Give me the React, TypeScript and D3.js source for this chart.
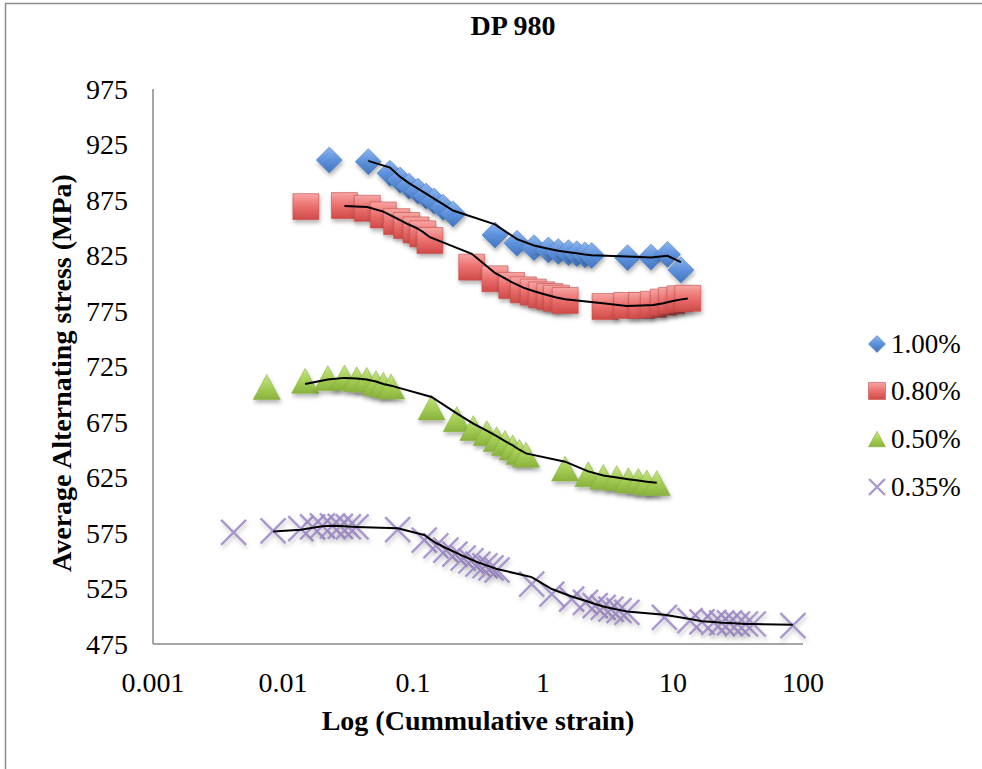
import React from "react";
import * as d3 from "d3";

// Cumulative strain (log axis) and average alternating stress (MPa) per strain amplitude
const strain100 = [0.0227, 0.0453, 0.0665, 0.0794, 0.0931, 0.109, 0.126, 0.145, 0.17, 0.203, 0.427, 0.631, 0.853, 1.1, 1.31, 1.57, 1.82, 2.1, 2.37, 4.47, 6.77, 9.07, 11.5];
const stress100 = [911, 909.5, 899, 893, 887.5, 883, 878.5, 874, 868.5, 862.5, 843.5, 836, 832, 830, 828.5, 827.5, 826.5, 825.5, 825, 823, 823.5, 826, 812];

const strain080 = [0.015, 0.0297, 0.0445, 0.0591, 0.0749, 0.0895, 0.1055, 0.119, 0.135, 0.283, 0.427, 0.574, 0.706, 0.842, 0.977, 1.13, 1.27, 1.48, 3.0, 4.4, 5.74, 7.06, 8.42, 9.77, 11.3, 13.0];
const stress080 = [869, 870, 867.5, 861.5, 855.5, 852, 848, 844.5, 838.5, 814.5, 804, 798, 794, 792, 789.5, 788, 786.5, 784.5, 779, 780, 780, 781, 783, 784.5, 786, 786.5];

const strain050 = [0.0075, 0.0148, 0.0221, 0.0297, 0.0369, 0.044, 0.0519, 0.0591, 0.0678, 0.139, 0.217, 0.291, 0.369, 0.44, 0.51, 0.585, 0.658, 0.74, 1.48, 2.23, 2.91, 3.69, 4.53, 5.41, 6.28, 7.5];
const stress050 = [706.5, 712, 714.5, 715, 713.5, 713, 710, 708.5, 707, 688, 677.5, 669.5, 665, 659.5, 656, 652, 648, 645.5, 633, 628, 625.5, 624.5, 622.5, 622, 620.5, 620];

const strain035 = [0.00417, 0.00839, 0.0137, 0.0169, 0.0201, 0.024, 0.0276, 0.0318, 0.0365, 0.0762, 0.122, 0.15, 0.179, 0.21, 0.243, 0.279, 0.316, 0.358, 0.398, 0.443, 0.818, 1.17, 1.66, 2.12, 2.52, 2.9, 3.33, 3.84, 4.42, 8.59, 13.5, 16.7, 20.6, 23.7, 27.2, 31.3, 36.1, 41.5, 83.6];
const stress035 = [575.5, 577, 579, 580.5, 581.5, 581.5, 581, 580.5, 580.5, 578, 568.5, 563.5, 559.5, 556, 552.5, 550, 547, 545.5, 543.5, 541.5, 529, 520, 515.5, 512.5, 509.5, 508, 506.5, 505, 503.5, 499, 496, 495, 494.5, 494, 494, 493, 493, 493, 491.5];

const seriesNames = ["1.00%", "0.80%", "0.50%", "0.35%"];
const xTickValues = [0.001, 0.01, 0.1, 1, 10, 100];
const xTickLabels = ["0.001", "0.01", "0.1", "1", "10", "100"];
const yTickValues = [475, 525, 575, 625, 675, 725, 775, 825, 875, 925, 975];

const chartTitle = "DP 980";
const xTitle = "Log (Cummulative strain)";
const yTitle = "Average Alternating stress (MPa)";

const W = 982;
const H = 769;
const FONT = "'Liberation Serif', 'Times New Roman', serif";

type Kind = "diamond" | "square" | "triangle" | "x";

const series: { name: string; xs: number[]; ys: number[]; kind: Kind; fill: string; size: number }[] = [
  { name: seriesNames[0], xs: strain100, ys: stress100, kind: "diamond", fill: "url(#gBlue)", size: 26 },
  { name: seriesNames[1], xs: strain080, ys: stress080, kind: "square", fill: "url(#gRed)", size: 26 },
  { name: seriesNames[2], xs: strain050, ys: stress050, kind: "triangle", fill: "url(#gGreen)", size: 27 },
  { name: seriesNames[3], xs: strain035, ys: stress035, kind: "x", fill: "none", size: 25 },
];

function markerPath(kind: Kind, s: number): string {
  const h = s / 2;
  switch (kind) {
    case "diamond":
      return `M0,${-h}L${h},0L0,${h}L${-h},0Z`;
    case "square":
      return `M${-h},${-h}h${s}v${s}h${-s}Z`;
    case "triangle": {
      const th = s * 0.46;
      return `M0,${-th}L${h},${th}L${-h},${th}Z`;
    }
    default:
      return `M${-h},${-h}L${h},${h}M${h},${-h}L${-h},${h}`;
  }
}

function Marker({ kind, fill, size, x, y, shadow = true }: { kind: Kind; fill: string; size: number; x: number; y: number; shadow?: boolean }) {
  const d = markerPath(kind, size);
  if (kind === "x") {
    return (
      <path
        d={d}
        transform={`translate(${x},${y})`}
        fill="none"
        stroke="#9c86c6"
        strokeOpacity={0.85}
        strokeWidth={2.4}
        filter={shadow ? "url(#shadowX)" : undefined}
      />
    );
  }
  const stroke = kind === "square" ? "#c4504d" : kind === "diamond" ? "#4f7fc0" : "#8cb044";
  return (
    <path
      d={d}
      transform={`translate(${x},${y})`}
      fill={fill}
      stroke={stroke}
      strokeOpacity={0.6}
      strokeWidth={1}
      filter={shadow ? "url(#shadow)" : undefined}
    />
  );
}

export default function App() {
  const x = d3.scaleLog().domain([0.001, 100]).range([153, 803]);
  const y = d3.scaleLinear().domain([475, 975]).range([644, 89]);

  const line = d3
    .line<[number, number]>()
    .x((d) => x(d[0]))
    .y((d) => y(d[1]));

  // Two-period moving average trendline for each series
  const movingAvg = (xs: number[], ys: number[]): [number, number][] =>
    xs.slice(1).map((v, i) => [v, (ys[i] + ys[i + 1]) / 2]);

  const legendRows = [344, 391, 439, 487];

  return (
    <svg
      width={W}
      height={H}
      style={{ position: "absolute", left: 0, top: 0, background: "#fff" }}
      fontFamily={FONT}
    >
      <defs>
        <linearGradient id="gBlue" x1="0" y1="0" x2="0" y2="1">
          <stop offset="0" stopColor="#8db6ef" />
          <stop offset="0.5" stopColor="#5d91db" />
          <stop offset="1" stopColor="#4474bf" />
        </linearGradient>
        <linearGradient id="gRed" x1="0" y1="0" x2="0" y2="1">
          <stop offset="0" stopColor="#f7a6a4" />
          <stop offset="0.45" stopColor="#ec7371" />
          <stop offset="1" stopColor="#d04a47" />
        </linearGradient>
        <linearGradient id="gGreen" x1="0" y1="0" x2="0" y2="1">
          <stop offset="0" stopColor="#c6e585" />
          <stop offset="0.5" stopColor="#a6cf57" />
          <stop offset="1" stopColor="#88b23b" />
        </linearGradient>
        <filter id="shadow" x="-50%" y="-50%" width="200%" height="200%">
          <feDropShadow dx="1" dy="3" stdDeviation="2" floodColor="#000" floodOpacity="0.3" />
        </filter>
        <filter id="shadowX" x="-50%" y="-50%" width="200%" height="200%">
          <feGaussianBlur in="SourceGraphic" stdDeviation="0.4" result="b" />
          <feDropShadow in="b" dx="1" dy="3" stdDeviation="2" floodColor="#000" floodOpacity="0.25" />
        </filter>
      </defs>

      {/* chart frame */}
      <rect x={5.5} y={3.5} width={1000} height={1000} fill="none" stroke="#8c8c8c" strokeWidth={1.5} />

      <text x={513} y={35} textAnchor="middle" fontWeight="bold" fontSize={28}>
        {chartTitle}
      </text>

      {/* axes */}
      <line x1={153} x2={153} y1={y(975)} y2={y(475)} stroke="#878787" strokeWidth={1.5} />
      <line x1={153} x2={x(100)} y1={y(475)} y2={y(475)} stroke="#878787" strokeWidth={1.5} />

      {yTickValues.map((v) => (
        <text key={v} x={128} y={y(v)} dy="0.35em" textAnchor="end" fontSize={28}>
          {v}
        </text>
      ))}
      {xTickValues.map((v, i) => (
        <text key={v} x={x(v)} y={692} textAnchor="middle" fontSize={28}>
          {xTickLabels[i]}
        </text>
      ))}

      <text x={478} y={730} textAnchor="middle" fontWeight="bold" fontSize={28}>
        {xTitle}
      </text>
      <text transform="translate(71,373) rotate(-90)" textAnchor="middle" fontWeight="bold" fontSize={28}>
        {yTitle}
      </text>

      {/* markers */}
      {series.map((s) => (
        <g key={s.name}>
          {s.xs.map((v, i) => (
            <Marker key={i} kind={s.kind} fill={s.fill} size={s.size} x={x(v)} y={y(s.ys[i])} />
          ))}
        </g>
      ))}

      {/* trendlines */}
      {series.map((s) => (
        <path key={s.name} d={line(movingAvg(s.xs, s.ys)) || ""} fill="none" stroke="#000" strokeWidth={2} />
      ))}

      {/* legend */}
      {series.map((s, i) => (
        <g key={s.name}>
          <Marker kind={s.kind} fill={s.fill} size={s.kind === "x" ? 16 : 17} x={877} y={legendRows[i]} shadow={false} />
          <text x={891} y={legendRows[i]} dy="0.35em" fontSize={27}>
            {s.name}
          </text>
        </g>
      ))}
    </svg>
  );
}
